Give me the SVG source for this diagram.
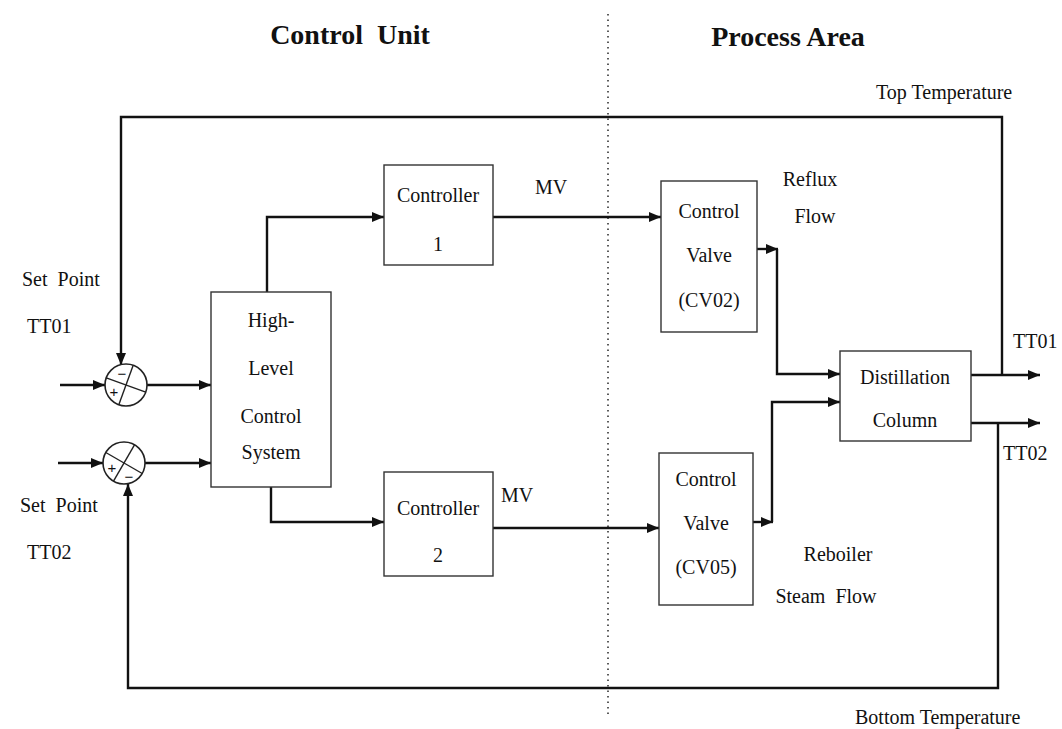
<svg xmlns="http://www.w3.org/2000/svg" width="1062" height="729" viewBox="0 0 1062 729" font-family="'Liberation Serif', 'Times New Roman', serif">
  <defs>
    <marker id="arrow" viewBox="0 0 12 10" refX="12" refY="5" markerWidth="12" markerHeight="10" markerUnits="userSpaceOnUse" orient="auto">
      <path d="M0,0 L12,5 L0,10 Z" fill="#111"/>
    </marker>
    <style>
      text { font-family: 'Liberation Serif', 'Times New Roman', serif; fill: #111; white-space: pre; }
      .title { font-size: 28px; font-weight: bold; }
      .lbl { font-size: 20px; }
      .mid { text-anchor: middle; }
      .box { fill: #fff; stroke: #333; stroke-width: 1.4; }
      .wire { fill: none; stroke: #111; stroke-width: 2.4; }
      .sum { fill: #fff; stroke: #222; stroke-width: 1.6; }
      .div { stroke: #222; stroke-width: 1.4; }
      .sign { font-size: 15px; text-anchor: middle; font-family: 'Liberation Sans', sans-serif; }
    </style>
  </defs>
  <rect width="1062" height="729" fill="#fff"/>

  <!-- section headings and divider -->
  <text class="title mid" x="350" y="44">Control  Unit</text>
  <text class="title mid" x="788" y="46">Process Area</text>
  <line x1="608" y1="14" x2="608" y2="716" stroke="#333" stroke-width="1.6" stroke-dasharray="1.5 4"/>

  <!-- free labels -->
  <text class="lbl" x="876" y="99">Top Temperature</text>
  <text class="lbl" x="855" y="724">Bottom Temperature</text>
  <text class="lbl" x="22" y="286">Set  Point</text>
  <text class="lbl" x="27" y="333">TT01</text>
  <text class="lbl" x="20" y="512">Set  Point</text>
  <text class="lbl" x="27" y="559">TT02</text>
  <text class="lbl mid" x="551" y="194">MV</text>
  <text class="lbl mid" x="517" y="502">MV</text>
  <text class="lbl mid" x="810" y="186">Reflux</text>
  <text class="lbl mid" x="815" y="223">Flow</text>
  <text class="lbl mid" x="838" y="561">Reboiler</text>
  <text class="lbl mid" x="826" y="603">Steam  Flow</text>
  <text class="lbl" x="1013" y="348">TT01</text>
  <text class="lbl" x="1003" y="460">TT02</text>

  <!-- connectors -->
  <g id="connectors">
    <!-- set point inputs -->
    <line class="wire" x1="60" y1="385" x2="105" y2="385" marker-end="url(#arrow)"/>
    <line class="wire" x1="58" y1="463" x2="103" y2="463" marker-end="url(#arrow)"/>
    <!-- error signals into high-level controller -->
    <line class="wire" x1="147" y1="385" x2="211" y2="385" marker-end="url(#arrow)"/>
    <line class="wire" x1="145" y1="463" x2="211" y2="463" marker-end="url(#arrow)"/>
    <!-- high-level controller to controllers 1 and 2 -->
    <polyline class="wire" points="267,292 267,217 384,217" marker-end="url(#arrow)"/>
    <polyline class="wire" points="271,487 271,522 384,522" marker-end="url(#arrow)"/>
    <!-- manipulated variables to valves -->
    <line class="wire" x1="493" y1="217" x2="661" y2="217" marker-end="url(#arrow)"/>
    <line class="wire" x1="493" y1="528" x2="659" y2="528" marker-end="url(#arrow)"/>
    <!-- valve outputs -->
    <line class="wire" x1="757" y1="249" x2="778" y2="249" marker-end="url(#arrow)"/>
    <polyline class="wire" points="777,249 777,374 840,374" marker-end="url(#arrow)"/>
    <line class="wire" x1="753" y1="522" x2="773" y2="522" marker-end="url(#arrow)"/>
    <polyline class="wire" points="772,522 772,402 840,402" marker-end="url(#arrow)"/>
    <!-- column outputs -->
    <line class="wire" x1="971" y1="375" x2="1040" y2="375" marker-end="url(#arrow)"/>
    <line class="wire" x1="971" y1="423" x2="1040" y2="423" marker-end="url(#arrow)"/>
    <!-- top temperature feedback -->
    <polyline class="wire" points="1002,375 1002,117 121,117 121,365" marker-end="url(#arrow)"/>
    <!-- bottom temperature feedback -->
    <polyline class="wire" points="998,423 998,688 128,688 128,484" marker-end="url(#arrow)"/>
  </g>

  <!-- summing junctions -->
  <g id="sum1">
    <circle class="sum" cx="126" cy="385" r="21"/>
    <line class="div" x1="133.2" y1="365.3" x2="118.8" y2="404.7"/>
    <line class="div" x1="106.3" y1="377.8" x2="145.7" y2="392.2"/>
    <text class="sign" x="122" y="379">−</text>
    <text class="sign" x="114" y="397">+</text>
  </g>
  <g id="sum2">
    <circle class="sum" cx="124" cy="463" r="21"/>
    <line class="div" x1="134.5" y1="444.8" x2="113.5" y2="481.2"/>
    <line class="div" x1="105.8" y1="452.5" x2="142.2" y2="473.5"/>
    <text class="sign" x="112" y="473">+</text>
    <text class="sign" x="129" y="482">−</text>
  </g>

  <!-- blocks -->
  <g id="high-level-control">
    <rect class="box" x="211" y="292" width="120" height="195"/>
    <text class="lbl mid" x="271" y="327">High-</text>
    <text class="lbl mid" x="271" y="375">Level</text>
    <text class="lbl mid" x="271" y="423">Control</text>
    <text class="lbl mid" x="271" y="459">System</text>
  </g>
  <g id="controller-1">
    <rect class="box" x="384" y="165" width="109" height="100"/>
    <text class="lbl mid" x="438" y="202">Controller</text>
    <text class="lbl mid" x="438" y="251">1</text>
  </g>
  <g id="controller-2">
    <rect class="box" x="384" y="472" width="109" height="104"/>
    <text class="lbl mid" x="438" y="515">Controller</text>
    <text class="lbl mid" x="438" y="562">2</text>
  </g>
  <g id="valve-cv02">
    <rect class="box" x="661" y="181" width="96" height="151"/>
    <text class="lbl mid" x="709" y="218">Control</text>
    <text class="lbl mid" x="709" y="262">Valve</text>
    <text class="lbl mid" x="709" y="307">(CV02)</text>
  </g>
  <g id="valve-cv05">
    <rect class="box" x="659" y="453" width="94" height="152"/>
    <text class="lbl mid" x="706" y="486">Control</text>
    <text class="lbl mid" x="706" y="530">Valve</text>
    <text class="lbl mid" x="706" y="574">(CV05)</text>
  </g>
  <g id="distillation-column">
    <rect class="box" x="840" y="351" width="131" height="90"/>
    <text class="lbl mid" x="905" y="384">Distillation</text>
    <text class="lbl mid" x="905" y="427">Column</text>
  </g>
</svg>
